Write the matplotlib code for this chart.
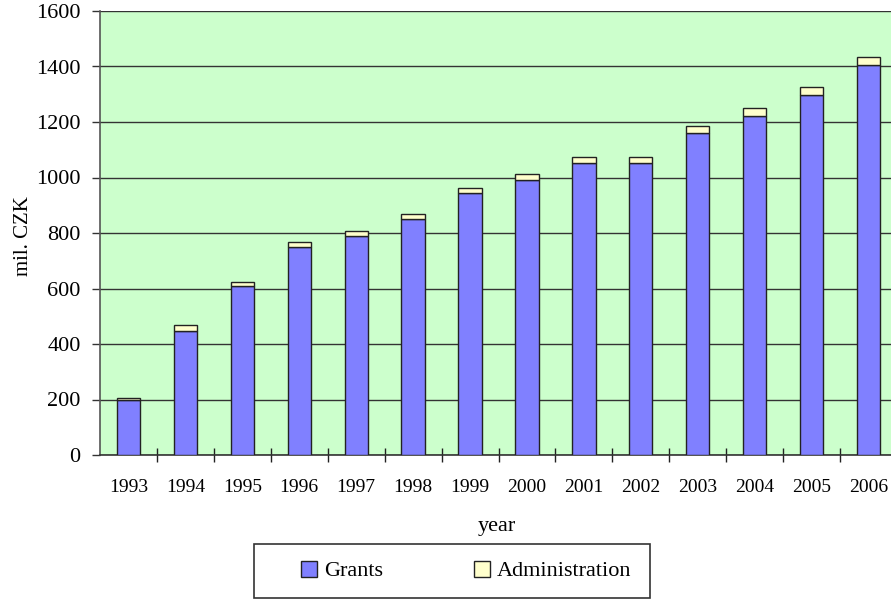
import matplotlib.pyplot as plt
from matplotlib.patches import Rectangle
import numpy as np

# data (mil. CZK)
years = ["1993", "1994", "1995", "1996", "1997", "1998", "1999",
         "2000", "2001", "2002", "2003", "2004", "2005", "2006"]
grants = [200, 448, 610, 750, 789, 849, 943, 992, 1051, 1051, 1159, 1222, 1297, 1404]
administration = [7, 19, 13, 19, 19, 18, 18, 19, 24, 24, 28, 27, 28, 29]

plt.rcParams["font.family"] = ["Liberation Serif", "DejaVu Serif"]

fig = plt.figure(figsize=(8.91, 6.01), dpi=100)
# plot area runs past the right edge of the picture, as in the original
W, H = 891.0, 601.0
ax = fig.add_axes([100 / W, 1 - 455 / H, 797 / W, 444 / H])
ax.set_facecolor("#CCFFCC")

x = np.arange(len(years))
edge = "#222222"
ax.bar(x, grants, width=0.41, color="#8080FF", edgecolor=edge, linewidth=1.0,
       label="Grants", zorder=3)
ax.bar(x, administration, width=0.41, bottom=grants, color="#FFFFCC",
       edgecolor=edge, linewidth=1.0, label="Administration", zorder=3)

ax.set_xlim(-0.5, len(years) - 0.5)
ax.set_ylim(0, 1600)
ax.set_yticks(np.arange(0, 1601, 200))
ax.yaxis.grid(True, color="#333333", linewidth=1.0, zorder=1)
ax.set_axisbelow(True)

# ticks between categories, labels centred under bars
ax.set_xticks(x + 0.5, minor=False)
ax.set_xticklabels([])
ax.set_xticks(x, minor=True)
ax.set_xticklabels(years, minor=True, fontsize=14)
ax.tick_params(axis="x", which="major", direction="inout", length=10, width=1, color="#222222")
ax.tick_params(axis="x", which="minor", length=0, pad=17)
ax.tick_params(axis="y", direction="out", length=6, width=1, color="#333333",
               labelsize=16, pad=8)

for side in ["top", "right"]:
    ax.spines[side].set_visible(False)
ax.spines["left"].set_color("#555555")
ax.spines["bottom"].set_color("#333333")
ax.spines["left"].set_linewidth(1.2)
ax.spines["bottom"].set_linewidth(1.2)

ax.set_ylabel("mil. CZK", fontsize=15)
ax.yaxis.set_label_coords((33 - 100) / 797, 0.493)
fig.text(497 / W, 1 - 526 / H, "year", ha="center", va="center", fontsize=16)

# legend box drawn by hand, entries placed inside it
fig.patches.append(Rectangle((254 / W, 1 - 598 / H), 396 / W, 54 / H,
                             transform=fig.transFigure, fill=False,
                             edgecolor="#333333", linewidth=1.2))
fig.legend(loc="center", bbox_to_anchor=(466 / W, 1 - 571 / H),
           ncol=2, fontsize=16, frameon=False,
           handlelength=0.72, handleheight=0.72, columnspacing=4.1,
           handletextpad=0.3)

fig.savefig("out.png", dpi=100)
